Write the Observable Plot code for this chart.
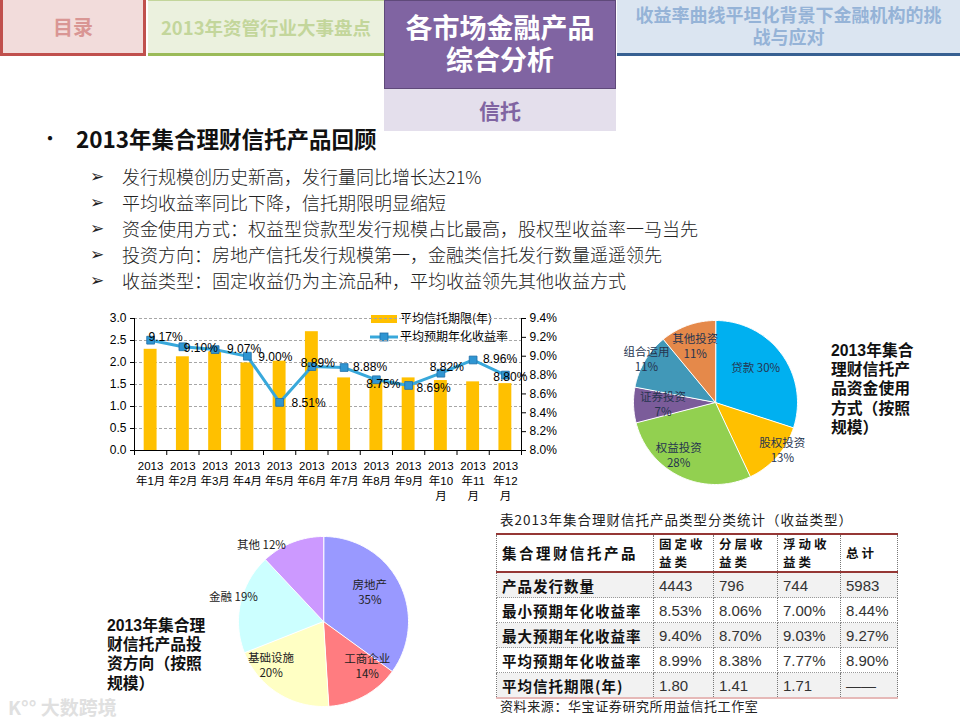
<!DOCTYPE html>
<html><head><meta charset="utf-8">
<script src="https://cdn.jsdelivr.net/npm/d3@7"></script>
<script src="https://cdn.jsdelivr.net/npm/@observablehq/plot@0.6"></script>
<style>
body{margin:0;width:960px;height:720px;position:relative;background:#fff;font-family:"Noto Sans CJK SC",sans-serif;overflow:hidden}
.abs{position:absolute}
.tab{position:absolute;box-sizing:border-box;display:flex;flex-direction:column;align-items:center;justify-content:center;text-align:center;font-weight:bold}
.lat{font-family:"Liberation Sans","Noto Sans CJK SC",sans-serif}
.bl{position:absolute;left:0;font-size:18px;font-weight:300;color:#222;white-space:nowrap;line-height:26px}
.bl .ar{position:absolute;left:90px;font-family:"DejaVu Sans";font-size:17px;font-weight:bold}
.bl .tx{position:absolute;left:122px}
.ptitle{position:absolute;font-weight:bold;font-size:15.8px;color:#111;font-family:"Liberation Sans","Noto Sans CJK SC",sans-serif}
.ptitle div{height:19.2px;line-height:19.2px;white-space:nowrap}
table.t{position:absolute;left:496px;top:533px;border-collapse:collapse;font-size:14px;table-layout:fixed}
table.t td{border-left:1px dotted #777;border-right:1px dotted #777;border-bottom:1px dotted #999;padding:0 0 0 5px;height:24px;color:#333;font-family:"Liberation Sans","Noto Sans CJK SC";font-size:15px}
table.t td.h{font-family:"Noto Sans CJK SC";font-weight:bold;font-size:14.5px;color:#111;letter-spacing:1px}
table.t tr.hd td{height:35px;border-bottom:2px solid #953735;font-family:"Noto Sans CJK SC";font-weight:bold;font-size:12.5px;color:#111;letter-spacing:3px}
table.t tr.hd td.first{font-size:14.5px;letter-spacing:2.5px}
table.t tr.hd td div{height:18px;line-height:18px;white-space:nowrap}
table.t tr.g td{background:#f2f2f2}
table.t tr.last td{border-bottom:2px solid #E6B9B8}
</style></head><body>
<script>
// ---------- data ----------
const months = ["2013\n年1月","2013\n年2月","2013\n年3月","2013\n年4月","2013\n年5月","2013\n年6月","2013\n年7月","2013\n年8月","2013\n年9月","2013\n年10\n月","2013\n年11\n月","2013\n年12\n月"];
const trustTerm = [2.30,2.13,2.24,1.99,2.03,2.70,1.65,1.62,1.65,1.59,1.56,1.52];
const yieldRate = [9.17,9.10,9.07,9.00,8.51,8.89,8.88,8.75,8.69,8.82,8.96,8.80];
const leftTicks = [0,0.5,1.0,1.5,2.0,2.5,3.0];
const rightTicks = [8.0,8.2,8.4,8.6,8.8,9.0,9.2,9.4];
const seriesNames = ["平均信托期限(年)","平均预期年化收益率"];
const usageCats = ["贷款","股权投资","权益投资","证券投资","组合运用","其他投资"];
const usageShares = [30,13,28,7,11,11];
const dirCats = ["房地产","工商企业","基础设施","金融","其他"];
const dirShares = [35,14,20,19,12];
const pie1Title = ["2013年集合","理财信托产","品资金使用","方式（按照","规模）"];
const pie2Title = ["2013年集合理","财信托产品投","资方向（按照","规模）"];
const tableCols = ["集合理财信托产品","固定收\n益类","分层收\n益类","浮动收\n益类","总计"];
const tableRowNames = ["产品发行数量","最小预期年化收益率","最大预期年化收益率","平均预期年化收益率","平均信托期限(年)"];
const tableValues = [
  ["4443","796","744","5983"],
  ["8.53%","8.06%","7.00%","8.44%"],
  ["9.40%","8.70%","9.03%","9.27%"],
  ["8.99%","8.38%","7.77%","8.90%"],
  ["1.80","1.41","1.71","——"]
];
const bullets = ["发行规模创历史新高，发行量同比增长达21%","平均收益率同比下降，信托期限明显缩短","资金使用方式：权益型贷款型发行规模占比最高，股权型收益率一马当先","投资方向：房地产信托发行规模第一，金融类信托发行数量遥遥领先","收益类型：固定收益仍为主流品种，平均收益领先其他收益方式"];
</script>

<!-- header tabs -->
<div class="tab" style="left:0;top:0;width:146px;height:56px;background:#F2DCDB;border:3px solid #C0504D;border-top:none;color:#D99694;font-size:20px">目录</div>
<div class="tab" style="left:148px;top:0;width:236px;height:56px;background:#EBF1DE;border-bottom:3px solid #9BBB59;border-top:1px solid #c3d69b;color:#C3D69B;font-size:18.5px">2013年资管行业大事盘点</div>
<div class="tab lat" style="left:384px;top:0;width:232px;height:89px;background:#8064A2;border:1px solid #5F497A;color:#fff;font-size:27px"><div style="height:32px;line-height:32px">各市场金融产品</div><div style="height:32px;line-height:32px">综合分析</div></div>
<div class="tab" style="left:384px;top:89px;width:232px;height:42px;background:#E4DFEC;color:#8064A2;font-size:21px">信托</div>
<div class="tab lat" style="left:617px;top:0;width:343px;height:56px;background:#DBE5F1;border-bottom:3px solid #376092;color:#95B3D7;font-size:18px"><div style="height:22px;line-height:22px">收益率曲线平坦化背景下金融机构的挑</div><div style="height:22px;line-height:22px">战与应对</div></div>

<!-- title & bullets -->
<div class="abs" style="left:40px;top:124px;font-size:20px;line-height:28px;color:#111">•</div>
<div class="abs" style="left:76px;top:123px;font-size:22.5px;line-height:30px;font-weight:bold;color:#111;white-space:nowrap">2013年集合理财信托产品回顾</div>
<div id="bullets"></div>

<!-- chart legend -->
<div class="abs" style="left:371px;top:315px;width:26px;height:8px;background:#FFC000"></div>
<div class="abs" style="left:400px;top:310px;font-size:12px;line-height:16px;white-space:nowrap">平均信托期限(年)</div>
<svg class="abs" style="left:368px;top:330px" width="32" height="14"><line x1="2" y1="7" x2="30" y2="7" stroke="#38A8DB" stroke-width="3"/><rect x="12" y="3" width="8" height="8" fill="#2F95D2" stroke="#1F6FA8" stroke-width="0.8"/></svg>
<div class="abs" style="left:400px;top:328px;font-size:12px;line-height:16px;white-space:nowrap">平均预期年化收益率</div>

<div id="chart" class="abs" style="left:90px;top:305px"></div>
<div id="pie1" class="abs" style="left:620px;top:310px"></div>
<div id="pie2" class="abs" style="left:200px;top:525px"></div>

<div id="pt1" class="ptitle" style="left:831px;top:341px"></div>
<div id="pt2" class="ptitle" style="left:107px;top:616px"></div>

<div class="abs" style="left:500px;top:510px;font-size:13.5px;line-height:18px;letter-spacing:1px;color:#222;white-space:nowrap">表2013年集合理财信托产品类型分类统计（收益类型）</div>
<div id="tbl"></div>
<div class="abs" style="left:500px;top:697px;font-size:13px;line-height:18px;letter-spacing:0.6px;color:#222;white-space:nowrap">资料来源：华宝证券研究所用益信托工作室</div>

<div class="abs" style="left:8px;top:695px;font-size:19px;line-height:24px;color:#e0e0e0;font-weight:bold;white-space:nowrap">K°° 大数跨境</div>

<script>
// bullets
const bdiv = document.getElementById("bullets");
bullets.forEach((b, k) => {
  const d = document.createElement("div");
  d.className = "bl";
  d.style.top = (163 + k * 26) + "px";
  d.innerHTML = `<span class="ar">➢</span><span class="tx">${b}</span>`;
  bdiv.appendChild(d);
});
document.getElementById("pt1").innerHTML = pie1Title.map(s => `<div>${s}</div>`).join("");
document.getElementById("pt2").innerHTML = pie2Title.map(s => `<div>${s}</div>`).join("");

// combo chart
const rows = months.map((label, i) => ({i, label, term: trustTerm[i], rate: yieldRate[i]}));
const toY = r => (r - 8) / 1.4 * 3;
const labelDx = [15, 18, 29, 28, 29, 6, 26, 7, 25, 6, 27, 5];
const labelDy = [-3, 1, 0, 1, 1, -3, 0, 4, 3, -6, -1, 2];
const chart = Plot.plot({
  width: 470, height: 205,
  marginLeft: 44, marginRight: 39, marginTop: 13, marginBottom: 60,
  x: {domain: [0, 12]},
  y: {domain: [0, 3]},
  style: {fontFamily: "'Liberation Sans','Noto Sans CJK SC',sans-serif", fontSize: "11.5px", color: "#000", background: "transparent", overflow: "visible"},
  marks: [
    Plot.ruleY(leftTicks.filter(d => d > 0), {stroke: "#a6a6a6", strokeDasharray: "3,2"}),
    Plot.rect(rows, {x1: d => d.i + 0.3, x2: d => d.i + 0.7, y1: 0, y2: "term", fill: "#FFC000"}),
    Plot.ruleX([0, 12], {y1: 0, y2: 3, stroke: "#000"}),
    Plot.ruleY([0], {stroke: "#000"}),
    Plot.axisY(leftTicks, {anchor: "left", tickSize: 4, tickPadding: 4, tickFormat: d3.format(".1f"), label: null, fontSize: 12}),
    Plot.axisY(rightTicks.map(toY), {anchor: "right", tickSize: 4, tickPadding: 4, tickFormat: d => (d / 3 * 1.4 + 8).toFixed(1) + "%", label: null, fontSize: 12}),
    Plot.axisX(d3.range(13), {tickSize: 5, tickFormat: () => "", label: null}),
    Plot.text(rows, {x: d => d.i + 0.5, y: 0, text: "label", dy: 9, lineAnchor: "top", lineHeight: 1.3, fontSize: 11.5}),
    Plot.line(rows, {x: d => d.i + 0.5, y: d => toY(d.rate), stroke: "#38A8DB", strokeWidth: 3}),
    Plot.dot(rows, {x: d => d.i + 0.5, y: d => toY(d.rate), symbol: "square", r: 4.4, fill: "#2F95D2", stroke: "#1F6FA8", strokeWidth: 0.8}),
    rows.map((d, i) => Plot.text([d], {x: d => d.i + 0.5, y: d => toY(d.rate), text: d => d.rate.toFixed(2) + "%", dx: labelDx[i], dy: labelDy[i], fontSize: 12}))
  ]
});
document.getElementById("chart").appendChild(chart);

// pies
function wedgePoints(shares) {
  const total = d3.sum(shares); let acc = 0; const pts = [];
  shares.forEach((s, k) => {
    const a0 = acc / total * 2 * Math.PI, a1 = (acc + s) / total * 2 * Math.PI; acc += s;
    pts.push({k, x: 0, y: 0});
    const n = Math.max(2, Math.ceil((a1 - a0) / (Math.PI / 180)));
    for (let j = 0; j <= n; j++) { const a = a0 + (a1 - a0) * j / n; pts.push({k, x: Math.sin(a), y: Math.cos(a)}); }
  });
  return pts;
}
function labelPoints(cats, shares, radii, rots, oneLine) {
  const total = d3.sum(shares); let acc = 0;
  return shares.map((s, k) => {
    const mid = (acc + s / 2) / total * 2 * Math.PI + rots[k] * Math.PI / 180; acc += s;
    const t = oneLine.includes(cats[k]) ? `${cats[k]} ${s}%` : `${cats[k]}\n${s}%`;
    return {k, x: radii[k] * Math.sin(mid), y: radii[k] * Math.cos(mid), text: t};
  });
}
function pie({width, height, cx, cy, r, cats, shares, colors, radii, rots, oneLine, textColor}) {
  const pts = wedgePoints(shares);
  const labs = labelPoints(cats, shares, radii, rots, oneLine);
  return Plot.plot({
    width, height, margin: 0,
    x: {domain: [-1, 1], range: [cx - r, cx + r], axis: null},
    y: {domain: [-1, 1], range: [cy + r, cy - r], axis: null},
    color: {domain: cats, range: colors},
    style: {fontFamily: "'Noto Sans CJK SC',sans-serif", background: "transparent", overflow: "visible"},
    marks: [
      Plot.line(pts, {x: "x", y: "y", z: "k", fill: d => cats[d.k], stroke: "white", strokeWidth: 1, curve: "linear-closed"}),
      Plot.text(labs, {x: "x", y: "y", text: "text", fill: textColor, fontSize: 11.5, lineHeight: 1.3})
    ]
  });
}
document.getElementById("pie1").appendChild(pie({
  width: 200, height: 185, cx: 95, cy: 92, r: 82,
  cats: usageCats, shares: usageShares,
  colors: ["#00B0F0", "#FFC000", "#92D050", "#7B5C9A", "#4198B8", "#E5894A"],
  radii: [0.65, 1.0, 0.78, 0.64, 1.0, 0.73], rots: [-5, -6, 10, 0, 2, 0],
  oneLine: ["贷款"], textColor: "#26344F"
}));
document.getElementById("pie2").appendChild(pie({
  width: 240, height: 190, cx: 123, cy: 96, r: 85,
  cats: dirCats, shares: dirShares,
  colors: ["#9999FF", "#FF7C80", "#FFFFC4", "#CCFFFF", "#CC99FF"],
  radii: [0.65, 0.73, 0.8, 1.1, 1.17], rots: [-6, -16, 18, 3, -17],
  oneLine: ["金融", "其他"], textColor: "#222"
}));

// table
const widths = [157, 60, 64, 63, 57];
let html = `<table class="t"><colgroup>${widths.map(w => `<col style="width:${w}px">`).join("")}</colgroup>`;
html += `<tr class="hd">${tableCols.map((c, j) => `<td class="${j === 0 ? "first" : ""}">${c.split("\n").map(s => `<div>${s}</div>`).join("")}</td>`).join("")}</tr>`;
tableRowNames.forEach((n, k) => {
  const cls = [k % 2 === 0 ? "g" : "", k === tableRowNames.length - 1 ? "last" : ""].join(" ");
  html += `<tr class="${cls}"><td class="h">${n}</td>${tableValues[k].map(v => `<td>${v}</td>`).join("")}</tr>`;
});
html += `</table>`;
document.getElementById("tbl").innerHTML = html;
const tbl = document.querySelector("table.t");
tbl.style.borderTop = "2px solid #953735";
</script>
</body></html>
